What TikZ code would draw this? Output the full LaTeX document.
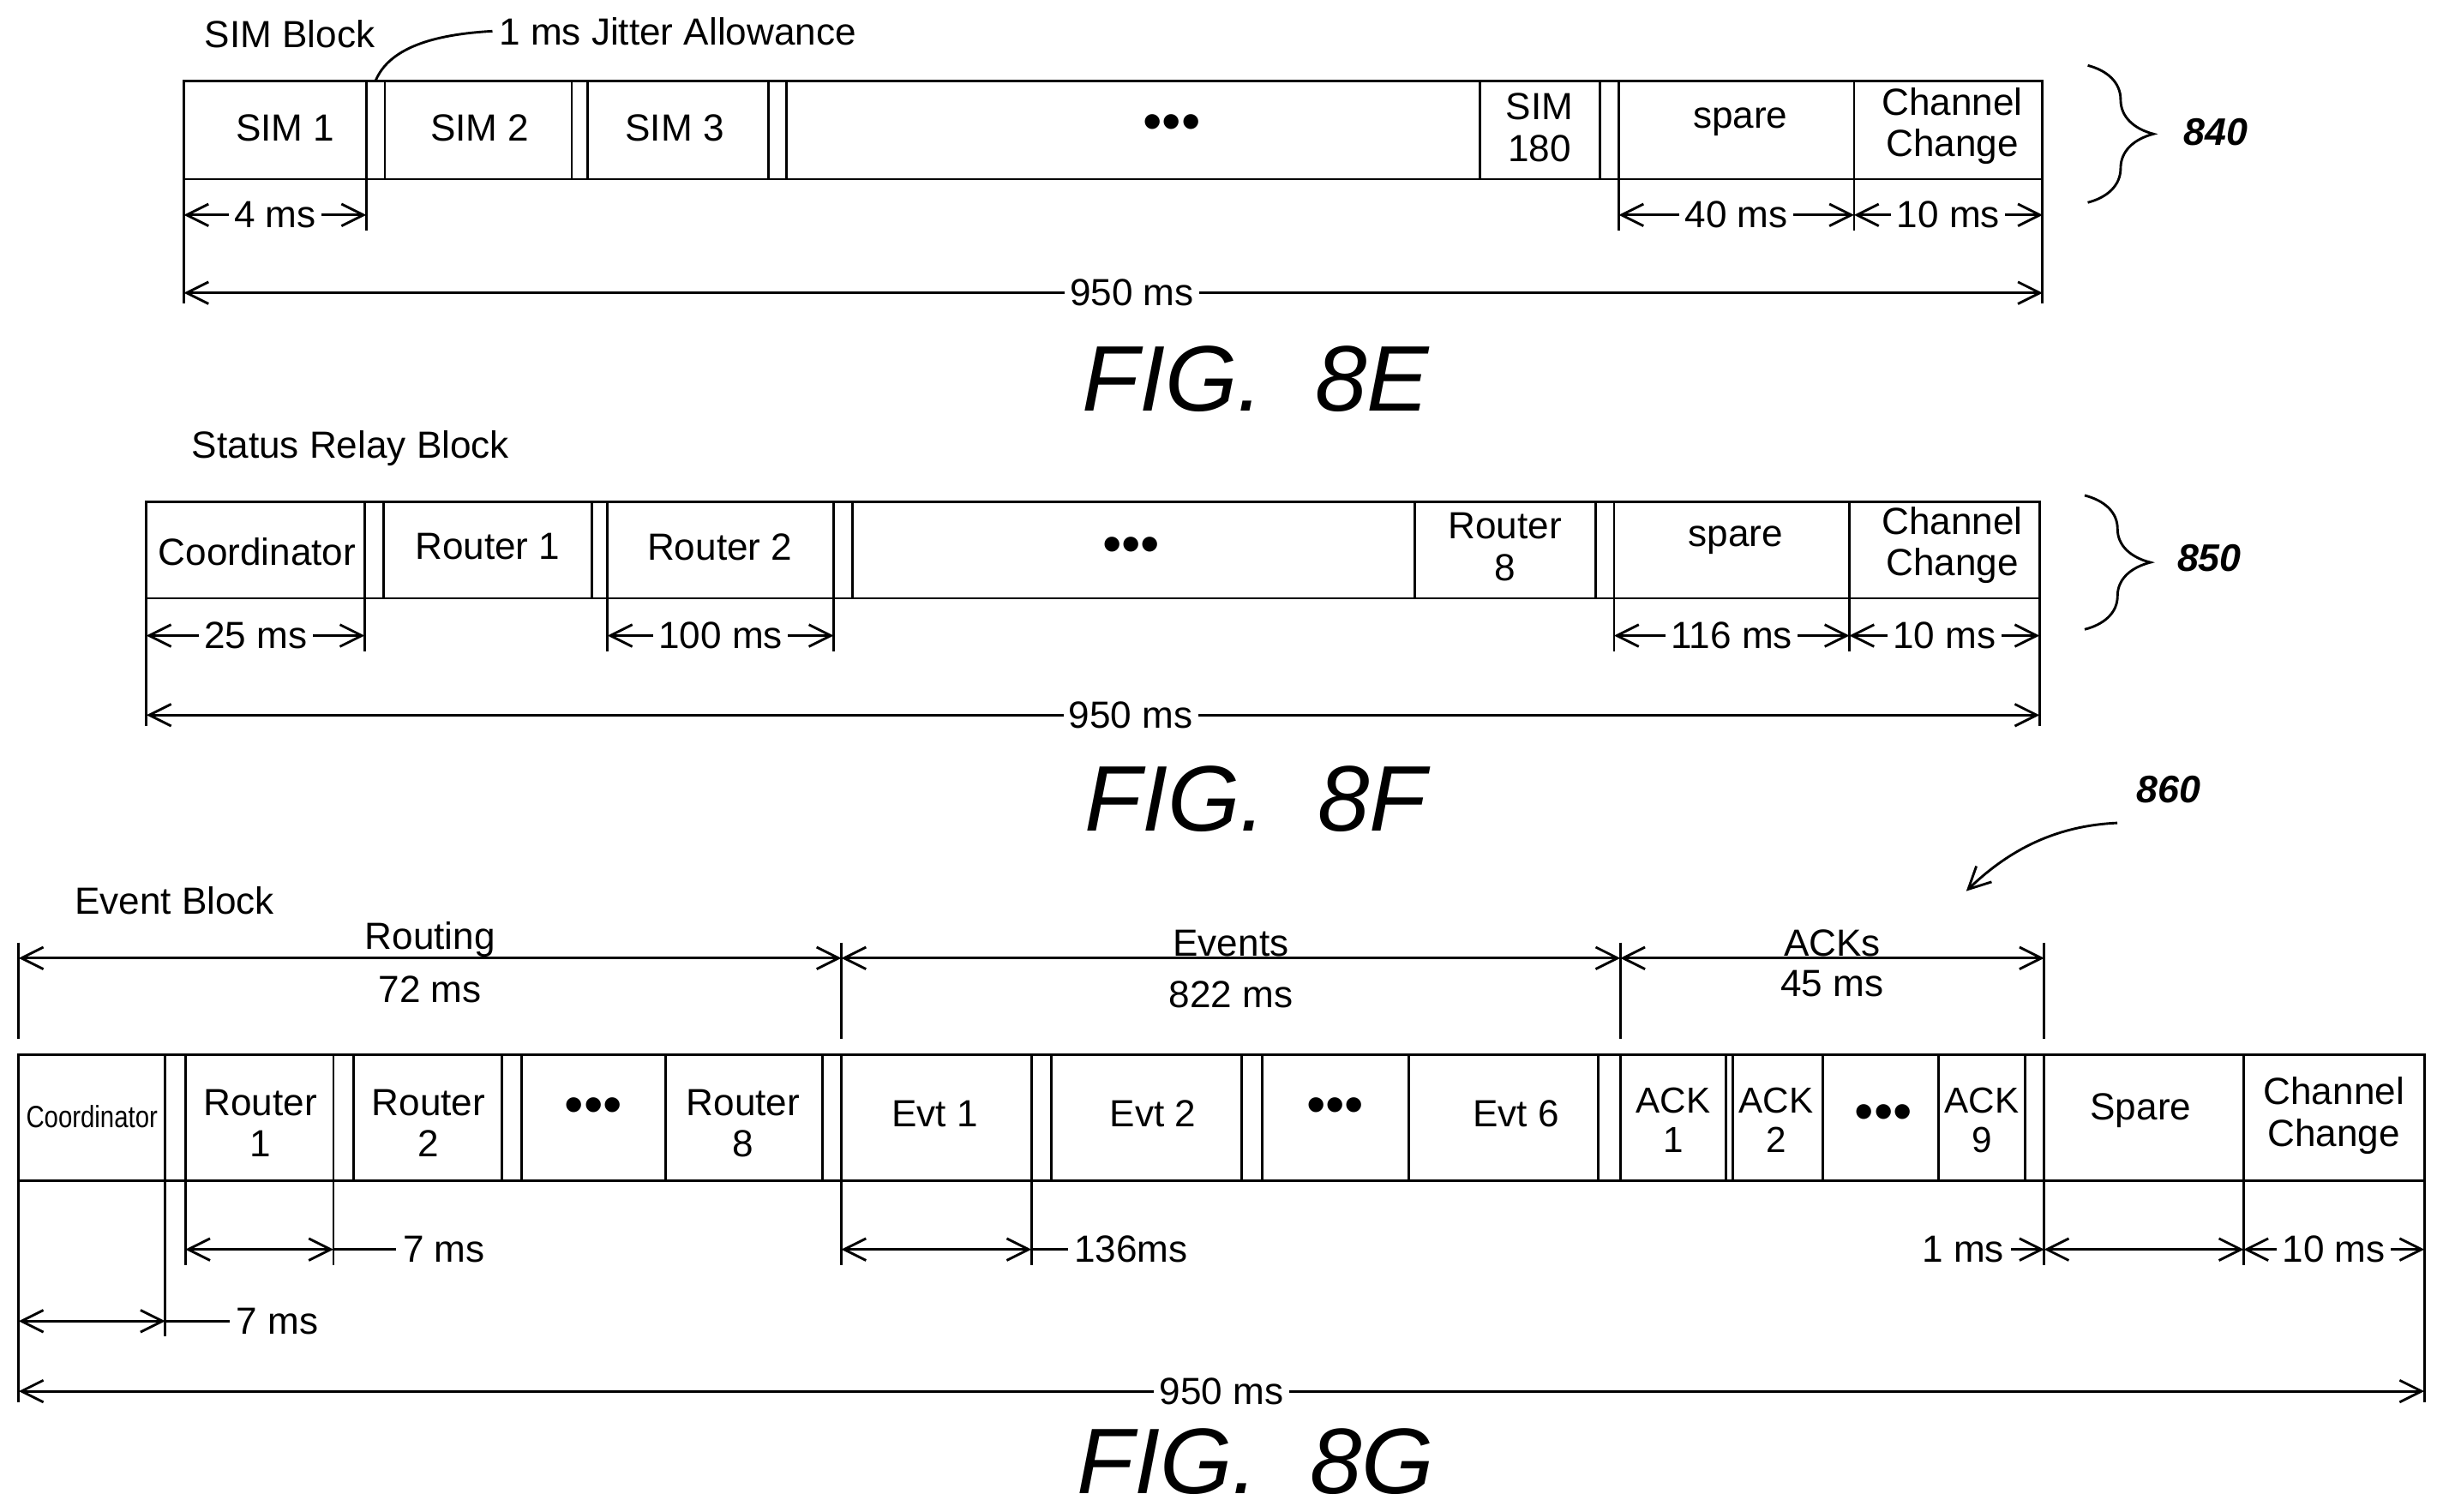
\documentclass[tikz,border=0pt]{standalone}
\usepackage{fontspec}
\setmainfont{Liberation Sans}
\usetikzlibrary{arrows.meta,decorations.pathreplacing}
\tikzset{
  txt/.style={font=\fontsize{6.9}{7.6}\selectfont, inner sep=1pt, align=center},
  ack/.style={txt, inner sep=0pt, font=\fontsize{6.6}{7.3}\selectfont},
  small/.style={font=\fontsize{5.6}{6}\selectfont, inner sep=1pt, xscale=0.82},
  dots/.style={font=\fontsize{10}{10}\selectfont, inner sep=1pt},
  dim/.style={{Straight Barb[length=4pt,width=4pt]}-{Straight Barb[length=4pt,width=4pt]}},
  fig/.style={font=\fontsize{17}{18}\selectfont\itshape},
  refnum/.style={font=\fontsize{7}{8}\selectfont\bfseries\itshape},
}
\newcommand{\tridots}{\textbullet\textbullet\textbullet}
\begin{document}
\begin{tikzpicture}[x=0.01cm,y=-0.01cm,line width=0.45pt]
  \useasboundingbox (0,0) rectangle (1568,970.5);

  % FIG. 8E
  \node[txt] (simblock) at (186,22) {SIM Block};
  \node[txt] (jitter) at (435,20) {1 ms Jitter Allowance};
  \draw (118,52) rectangle (1311,115);
  \foreach \x in {235,247,367,377,493,505,950,1027,1039,1190}
    \draw (\x,52) -- (\x,115);
  \draw (241,52) .. controls (250,30) and (280,22) .. (jitter.west);
  \node[txt] (sim1) at (183,82) {SIM 1};
  \node[txt] (sim2) at (308,82) {SIM 2};
  \node[txt] (sim3) at (433,82) {SIM 3};
  \node[dots] (dotsE) at (752,82) {\tridots};
  \node[txt] (sim180) at (988,82) {SIM\\180};
  \node[txt] (spareE) at (1117,78) {spare};
  \node[txt] (ccE) at (1253,81) {Channel\\Change};
  \foreach \x in {118,235,1039,1190,1311}
    \draw (\x,115) -- (\x,148);
  \foreach \x in {118,1311}
    \draw (\x,148) -- (\x,195);
  \draw[dim] (118,138) -- node[txt,fill=white] {4 ms} (235,138);
  \draw[dim] (1039,138) -- node[txt,fill=white] {40 ms} (1190,138);
  \draw[dim] (1190,138) -- node[txt,fill=white] {10 ms} (1311,138);
  \draw[dim] (118,188) -- node[txt,fill=white,pos=0.51] {950 ms} (1311,188);
  \draw[decorate,decoration={brace,amplitude=12pt}] (1340,42) -- (1340,130);
  \node[refnum] (r840) at (1422,85) {840};
  \node[fig] (fig8e) at (806,243) {FIG.\ \ 8E};

  % FIG. 8F
  \node[txt] (srblock) at (225,288) {Status Relay Block};
  \draw (94,322) rectangle (1309,384);
  \foreach \x in {234,246,380,390,535,547,908,1024,1036,1187}
    \draw (\x,322) -- (\x,384);
  \node[txt] (coordF) at (165,354) {Coordinator};
  \node[txt] (r1F) at (313,351) {Router 1};
  \node[txt] (r2F) at (462,351) {Router 2};
  \node[dots] (dotsF) at (726,353) {\tridots};
  \node[txt] (r8F) at (966,351) {Router\\8};
  \node[txt] (spareF) at (1114,347) {spare};
  \node[txt] (ccF) at (1253,350) {Channel\\Change};
  \foreach \x in {94,234,390,535,1036,1187,1309}
    \draw (\x,384) -- (\x,418);
  \foreach \x in {94,1309}
    \draw (\x,418) -- (\x,466);
  \draw[dim] (94,408) -- node[txt,fill=white] {25 ms} (234,408);
  \draw[dim] (390,408) -- node[txt,fill=white] {100 ms} (535,408);
  \draw[dim] (1036,408) -- node[txt,fill=white] {116 ms} (1187,408);
  \draw[dim] (1187,408) -- node[txt,fill=white] {10 ms} (1309,408);
  \draw[dim] (94,459) -- node[txt,fill=white,pos=0.52] {950 ms} (1309,459);
  \draw[decorate,decoration={brace,amplitude=12pt}] (1338,318) -- (1338,404);
  \node[refnum] (r850) at (1418,358) {850};
  \node[fig] (fig8f) at (806,513) {FIG.\ \ 8F};

  % FIG. 8G
  \node[txt] (evblock) at (112,578) {Event Block};
  \node[refnum] (r860) at (1392,507) {860};
  \draw[-{Straight Barb[length=4pt,width=4pt]}] (r860.south west) .. controls (1320,530) and (1290,545) .. (1262,572);
  \foreach \x in {12,540,1040,1312}
    \draw (\x,605) -- (\x,667);
  \draw[dim] (12,615) -- node[txt,above=-1pt] {Routing} node[txt,below=2pt] {72 ms} (540,615);
  \draw[dim] (540,615) -- node[txt,above=-1pt] {Events} node[txt,below=3pt] {822 ms} (1040,615);
  \draw[dim] (1040,615) -- node[txt,above=-1pt] {ACKs} node[txt,below=1pt] {45 ms} (1312,615);
  \draw (12,677) rectangle (1556,758);
  \foreach \x in {106,119,214,227,322,335,427,528,540,662,675,797,810,904,1026,1040,1108,1112,1170,1244,1300,1312,1440}
    \draw (\x,677) -- (\x,758);
  \node[small] (coordG) at (59,717) {Coordinator};
  \node[txt] (r1G) at (167,721) {Router\\1};
  \node[txt] (r2G) at (275,721) {Router\\2};
  \node[dots] (dotsG1) at (381,713) {\tridots};
  \node[txt] (r8G) at (477,721) {Router\\8};
  \node[txt] (evt1) at (600,715) {Evt 1};
  \node[txt] (evt2) at (740,715) {Evt 2};
  \node[dots] (dotsG2) at (857,713) {\tridots};
  \node[txt] (evt6) at (973,715) {Evt 6};
  \node[ack] (ack1) at (1074,719) {ACK\\1};
  \node[ack] (ack2) at (1140,719) {ACK\\2};
  \node[dots] (dotsG3) at (1209,717) {\tridots};
  \node[ack] (ack9) at (1272,719) {ACK\\9};
  \node[txt] (spareG) at (1374,713) {Spare};
  \node[txt] (ccG) at (1498,716) {Channel\\Change};
  \foreach \x in {119,214,540,662,1312,1440,1556}
    \draw (\x,758) -- (\x,812);
  \foreach \x in {12,106}
    \draw (\x,758) -- (\x,858);
  \draw (12,858) -- (12,900);
  \draw (1556,812) -- (1556,900);
  \draw[dim] (119,802) -- (214,802);
  \node[txt] (ms7a) at (285,802) {7 ms};
  \draw (214,802) -- (ms7a.west);
  \draw[dim] (12,848) -- (106,848);
  \node[txt] (ms7b) at (178,848) {7 ms};
  \draw (106,848) -- (ms7b.west);
  \draw[dim] (540,802) -- (662,802);
  \node[txt] (ms136) at (726,802) {136ms};
  \draw (662,802) -- (ms136.west);
  \node[txt] (ms1) at (1260,802) {1 ms};
  \draw[-{Straight Barb[length=4pt,width=4pt]}] (ms1.east) -- (1312,802);
  \draw[dim] (1312,802) -- (1440,802);
  \draw[dim] (1440,802) -- node[txt,fill=white] {10 ms} (1556,802);
  \draw[dim] (12,893) -- node[txt,fill=white,pos=0.5] {950 ms} (1556,893);
  \node[fig] (fig8g) at (806,938) {FIG.\ \ 8G};
\end{tikzpicture}
\end{document}
